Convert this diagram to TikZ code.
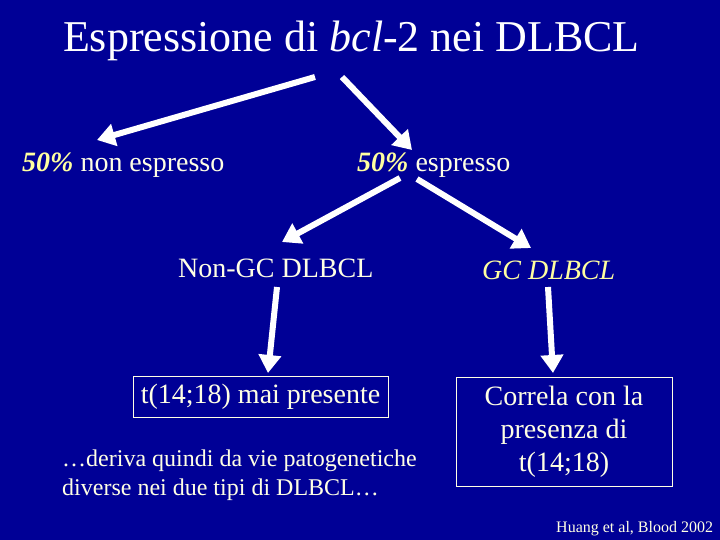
\documentclass[tikz,border=0pt]{standalone}
\usepackage{fontspec}
\setmainfont{Liberation Serif}
\usetikzlibrary{arrows.meta}
\definecolor{bg}{RGB}{0,0,150}
\definecolor{cream}{RGB}{255,255,228}
\definecolor{pale}{RGB}{255,255,160}
\newcommand{\sct}[2]{\scalebox{#1}{#2}}
\tikzset{
  txt/.style={inner sep=0pt, text=cream, font=\fontsize{16}{18.86}\selectfont},
  lbl/.style={txt, anchor=base west},
  boxed/.style={txt, draw=cream, line width=1pt, align=center},
  wa/.style={white, line width=6pt, -{Triangle[length=18pt,width=22pt]}}
}
\begin{document}
\begin{tikzpicture}[x=1pt,y=-1pt]
\fill[bg] (0,0) rectangle (720,540);
\useasboundingbox (0,0) rectangle (720,540);
\node[txt, anchor=base, text=white] (title) at (351.5,52) {\sct{2.75}{Espressione di \textit{bcl}-2 nei DLBCL}};
\node[lbl] (ne) at (22,172) {\sct{1.75}{\textcolor{pale}{\textbf{\textit{50\%}}} non espresso}};
\node[lbl] (es) at (357,172) {\sct{1.75}{\textcolor{pale}{\textbf{\textit{50\%}}} espresso}};
\node[lbl] (ngc) at (178,277) {\sct{1.75}{Non-GC DLBCL}};
\node[lbl, text=pale] (gc) at (482,279) {\sct{1.75}{\textit{GC DLBCL}}};
\node[boxed, minimum width=255pt, minimum height=41pt] (b1) at (260.5,396.5) {\sct{1.75}{t(14;18) mai presente}};
\node[boxed, minimum width=216pt, minimum height=109pt] (b2) at (564,431.5) {\sct{1.75}{\begin{tabular}{@{}c@{}}Correla con la\\presenza di\\t(14;18)\end{tabular}}};
\node[lbl, font=\fontsize{16}{18.67}\selectfont] (note) at (62,495) {\sct{1.5}{\begin{tabular}[b]{@{}l@{}}…deriva quindi da vie patogenetiche\\diverse nei due tipi di DLBCL…\end{tabular}}};
\node[lbl] (cite) at (556,532) {Huang et al, Blood 2002};
\coordinate (t1) at (315,77);
\coordinate (t2) at (342,77);
\coordinate (ne1) at (97,140);
\coordinate (es1) at (412,150);
\coordinate (es2) at (400,178);
\coordinate (es3) at (417,179);
\coordinate (ngc1) at (282,242);
\coordinate (gc1) at (531,248);
\coordinate (ngc2) at (277,287);
\coordinate (b1t) at (268,373);
\coordinate (gc2) at (548,287);
\coordinate (b2t) at (553,373);
\draw[wa] (t1) -- (ne1);
\draw[wa] (t2) -- (es1);
\draw[wa] (es2) -- (ngc1);
\draw[wa] (es3) -- (gc1);
\draw[wa] (ngc2) -- (b1t);
\draw[wa] (gc2) -- (b2t);
\end{tikzpicture}
\end{document}
